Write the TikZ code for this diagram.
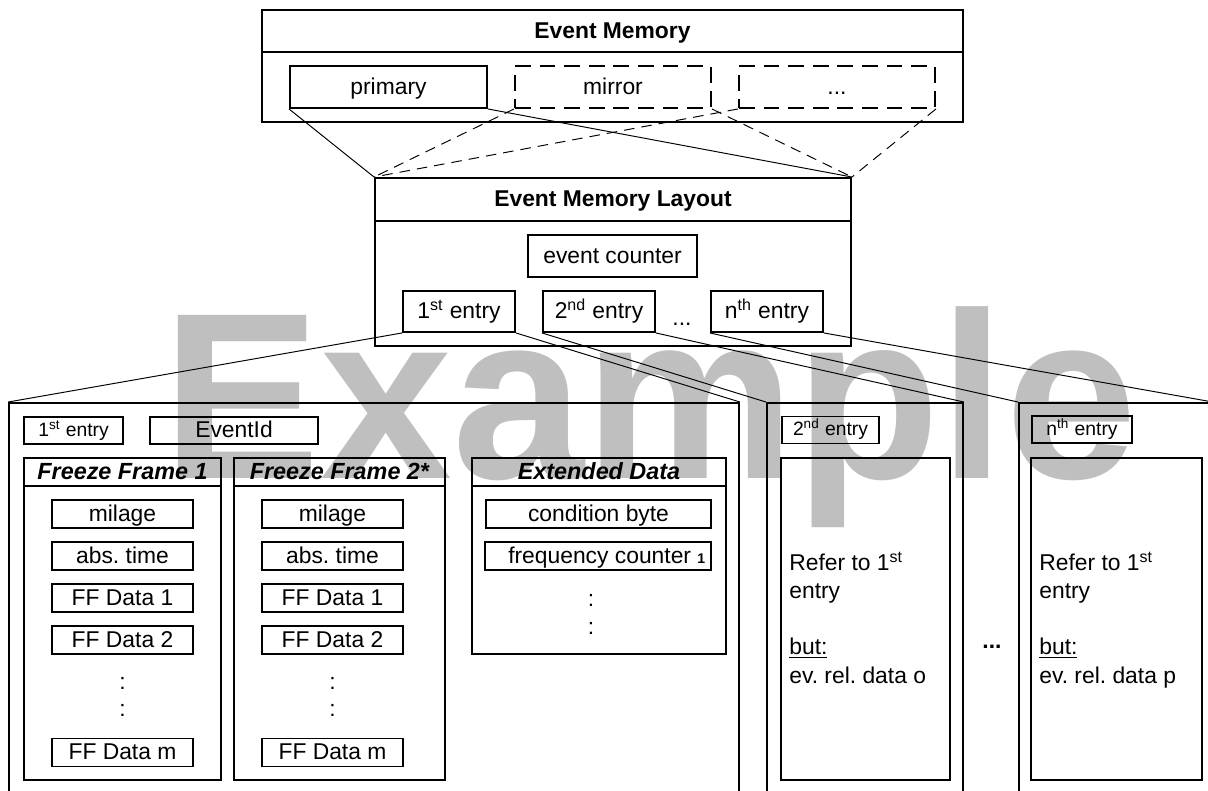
\documentclass[tikz,border=0pt]{standalone}
\usepackage{fontspec}
\setmainfont{Liberation Sans}
\frenchspacing

\begin{document}
\begin{tikzpicture}[x=0.02cm,y=-0.02cm,line join=miter,
  every node/.style={inner sep=0pt,font=\fontsize{13}{16}\selectfont},
  sz/.style 2 args={minimum width=#1*0.02cm,minimum height=#2*0.02cm},
  outer/.style={draw,line width=1.1pt,text height=9.5pt,text depth=1.5pt},
  item/.style={draw,line width=0.8pt,text height=9.5pt,text depth=1.5pt},
  dashbox/.style={outer,dash pattern=on 9pt off 5pt},
  title/.style={outer,font=\fontsize{13}{16}\selectfont\bfseries},
  ftitle/.style={title,font=\fontsize{13.3}{16}\selectfont\bfseries\itshape},
  small/.style={item,font=\fontsize{11}{13}\selectfont,text height=8pt,text depth=1.3pt},
  link/.style={line width=0.55pt},
  dlink/.style={link,dash pattern=on 6pt off 4pt}]
  \useasboundingbox (0,0) rectangle (1208,791);
  \clip (0,0) rectangle (1208,791);
  \node[text=black!25,font=\fontsize{135}{135}\selectfont\bfseries,anchor=base] (wm) at (650,478) {Example};
  \node[outer,sz={701}{112}] (mem) at (612.5,66) {};
  \node[title,sz={701}{42}] (memtitle) at (612.5,31) {Event Memory};
  \node[outer,sz={197}{42}] (primary) at (388.5,87) {primary};
  \node[dashbox,sz={196}{42}] (mirror) at (613,87) {mirror};
  \node[dashbox,sz={196}{42}] (memmore) at (837,87) {...};
  \node[outer,sz={476}{168}] (lay) at (613,262) {};
  \node[title,sz={476}{43}] (laytitle) at (613,199.5) {Event Memory Layout};
  \node[outer,sz={169}{42}] (evcount) at (612.5,256) {event counter};
  \node[outer,sz={112}{41}] (e1) at (459,311.5) {1\textsuperscript{st} entry};
  \node[outer,sz={112}{41}] (e2) at (599,311.5) {2\textsuperscript{nd} entry};
  \node[anchor=base] (edots) at (682,325) {...};
  \node[outer,sz={112}{41}] (en) at (767,311.5) {n\textsuperscript{th} entry};
  \node[outer,sz={730}{430}] (ent1) at (374,618) {};
  \node[outer,sz={196}{430}] (ent2) at (865,618) {};
  \node[outer,sz={193}{430}] (entn) at (1115.5,618) {};
  \node[small,sz={99}{27}] (ent1lbl) at (73.5,430.5) {1\textsuperscript{st} entry};
  \node[item,sz={168}{27}] (evid) at (234,430.5) {EventId};
  \node[outer,sz={197}{322}] (ff1) at (122.5,619) {};
  \node[ftitle,sz={197}{28}] (ff1title) at (122.5,472) {Freeze Frame 1};
  \node[item,sz={141}{28}] (ff1mil) at (122.5,514) {milage};
  \node[item,sz={141}{28}] (ff1time) at (122.5,556) {abs. time};
  \node[item,sz={141}{28}] (ff1da) at (122.5,598) {FF Data 1};
  \node[item,sz={141}{28}] (ff1db) at (122.5,640) {FF Data 2};
  \node (ff1cola) at (122.5,683) {:};
  \node (ff1colb) at (122.5,710) {:};
  \node[item,sz={141}{28}] (ff1dm) at (122.5,752.5) {FF Data m};
  \node[outer,sz={211}{322}] (ff2) at (339.5,619) {};
  \node[ftitle,sz={211}{28}] (ff2title) at (339.5,472) {Freeze Frame 2*};
  \node[item,sz={141}{28}] (ff2mil) at (332.5,514) {milage};
  \node[item,sz={141}{28}] (ff2time) at (332.5,556) {abs. time};
  \node[item,sz={141}{28}] (ff2da) at (332.5,598) {FF Data 1};
  \node[item,sz={141}{28}] (ff2db) at (332.5,640) {FF Data 2};
  \node (ff2cola) at (332.5,683) {:};
  \node (ff2colb) at (332.5,710) {:};
  \node[item,sz={141}{28}] (ff2dm) at (332.5,752.5) {FF Data m};
  \node[outer,sz={254}{196}] (ext) at (599,556) {};
  \node[ftitle,sz={254}{28}] (exttitle) at (599,472) {Extended Data};
  \node[item,sz={225}{28}] (cond) at (598.5,514) {condition byte};
  \node[item,sz={226}{28}] (freq) at (598,556) {\hspace{10pt}frequency counter \textbf{\fontsize{8}{8}\selectfont 1}};
  \node (extcola) at (591,600) {:};
  \node (extcolb) at (591,628) {:};
  \node[small,sz={97}{27}] (ent2lbl) at (830.5,430) {2\textsuperscript{nd} entry};
  \node[outer,sz={169}{322}] (ent2body) at (865.5,619) {};
  \node[align=left,anchor=base west] (ent2text) at (789,683) {Refer to 1\textsuperscript{st}\\entry\\[16pt]\underline{but:}\\ev. rel. data o};
  \node[font=\fontsize{13}{16}\selectfont\bfseries,anchor=base] (entdots) at (992,648) {...};
  \node[small,sz={100}{27}] (entnlbl) at (1082,429.5) {n\textsuperscript{th} entry};
  \node[outer,sz={171}{322}] (entnbody) at (1116.5,619) {};
  \node[align=left,anchor=base west] (entntext) at (1039,683) {Refer to 1\textsuperscript{st}\\entry\\[16pt]\underline{but:}\\ev. rel. data p};
  \draw[link] (primary.south west) -- (lay.north west);
  \draw[link] (primary.south east) -- (lay.north east);
  \draw[dlink] (mirror.south west) -- (lay.north west);
  \draw[dlink] (mirror.south east) -- (lay.north east);
  \draw[dlink] (memmore.south west) -- (lay.north west);
  \draw[dlink] (memmore.south east) -- (lay.north east);
  \draw[link] (e1.south west) -- (ent1.north west);
  \draw[link] (e1.south east) -- (ent1.north east);
  \draw[link] (e2.south west) -- (ent2.north west);
  \draw[link] (e2.south east) -- (ent2.north east);
  \draw[link] (en.south west) -- (entn.north west);
  \draw[link] (en.south east) -- (entn.north east);
\end{tikzpicture}
\end{document}
